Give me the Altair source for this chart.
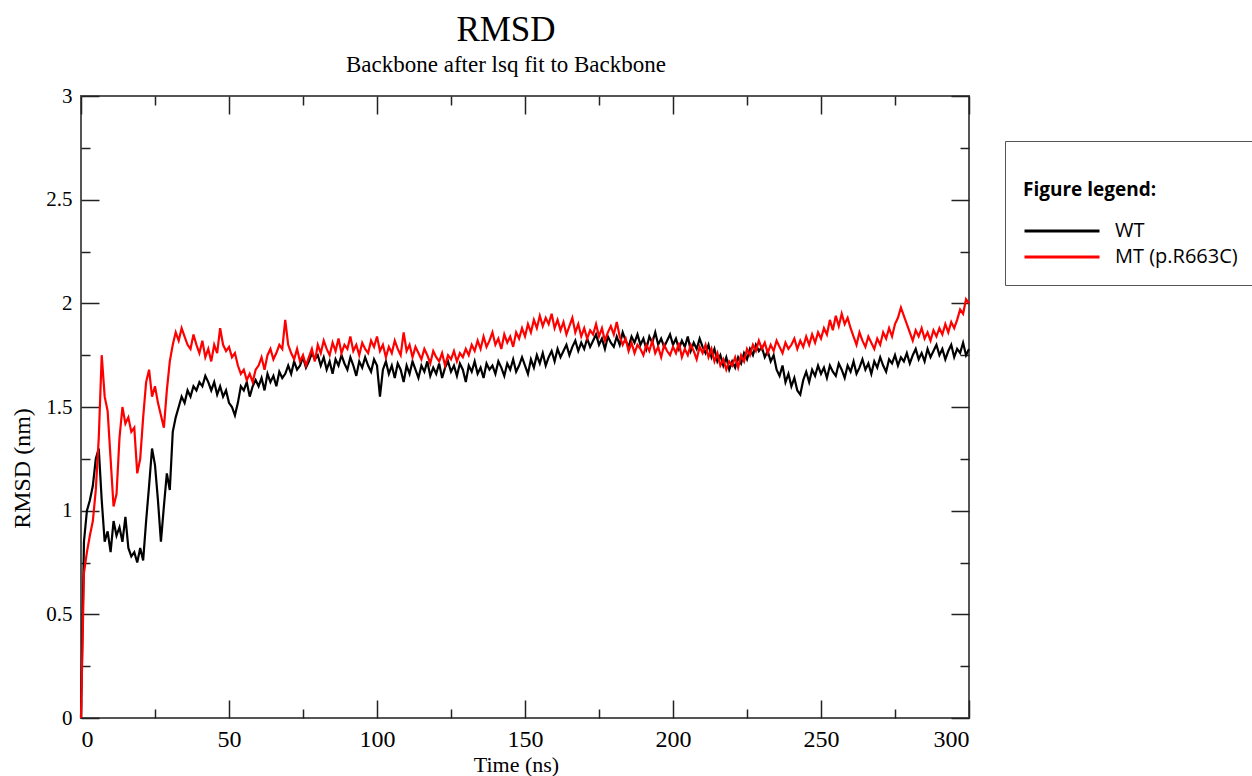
import altair as alt
import pandas as pd

# ---------------- data ----------------
time_ns = list(range(0, 301))

wt_rmsd = [
    0.00, 0.85, 1.00, 1.05, 1.12, 1.25, 1.30, 1.05, 0.85, 0.90,
    0.80, 0.95, 0.88, 0.92, 0.85, 0.97, 0.82, 0.78, 0.80, 0.75,
    0.82, 0.76, 0.95, 1.12, 1.30, 1.22, 1.05, 0.85, 1.02, 1.18,
    1.10, 1.38, 1.45, 1.50, 1.55, 1.52, 1.58, 1.55, 1.60, 1.58,
    1.62, 1.60, 1.65, 1.62, 1.58, 1.62, 1.56, 1.60, 1.55, 1.58,
    1.52, 1.50, 1.46, 1.52, 1.60, 1.58, 1.62, 1.55, 1.60, 1.63,
    1.60, 1.64, 1.58, 1.66, 1.62, 1.65, 1.60, 1.67, 1.64, 1.66,
    1.70, 1.66, 1.72, 1.68, 1.70, 1.74, 1.69, 1.72, 1.76, 1.73,
    1.75, 1.70, 1.74, 1.68, 1.72, 1.66, 1.73, 1.70, 1.75, 1.71,
    1.68, 1.74, 1.70, 1.65, 1.72, 1.69, 1.74, 1.70, 1.67, 1.73,
    1.70, 1.55, 1.68, 1.72, 1.66, 1.70, 1.64, 1.71, 1.68, 1.62,
    1.70, 1.66, 1.72, 1.68, 1.64, 1.70, 1.67, 1.72, 1.65, 1.69,
    1.66, 1.71, 1.64, 1.69, 1.72, 1.67, 1.70, 1.65, 1.71, 1.68,
    1.62, 1.70, 1.67, 1.72, 1.66, 1.69, 1.64, 1.71, 1.68, 1.70,
    1.66, 1.72, 1.69, 1.65, 1.71, 1.68, 1.73, 1.67, 1.70, 1.74,
    1.70, 1.66, 1.73, 1.69, 1.75, 1.71, 1.76, 1.70, 1.74, 1.77,
    1.72, 1.78, 1.74, 1.77, 1.80, 1.75, 1.79, 1.82, 1.77, 1.81,
    1.78, 1.83, 1.79, 1.82, 1.85, 1.80, 1.83, 1.78, 1.84, 1.81,
    1.79, 1.84, 1.80, 1.86, 1.82, 1.79, 1.84, 1.81, 1.85, 1.80,
    1.83, 1.78, 1.84, 1.81, 1.86, 1.80, 1.83, 1.79, 1.82, 1.85,
    1.80, 1.83, 1.78, 1.82, 1.79, 1.84, 1.77, 1.81, 1.78, 1.83,
    1.79, 1.76, 1.80, 1.74, 1.78, 1.72, 1.75, 1.70, 1.74, 1.68,
    1.72, 1.69, 1.74, 1.71, 1.76, 1.73, 1.78, 1.75, 1.80, 1.77,
    1.79, 1.74, 1.77, 1.72, 1.75, 1.68, 1.65, 1.70, 1.62, 1.66,
    1.60, 1.64, 1.58, 1.56, 1.63, 1.67, 1.62, 1.68, 1.65, 1.70,
    1.66, 1.69, 1.64, 1.70, 1.67, 1.65, 1.71, 1.68, 1.64, 1.70,
    1.67, 1.72, 1.66, 1.69, 1.73, 1.68, 1.71, 1.66, 1.72, 1.69,
    1.74, 1.70, 1.67, 1.73, 1.71, 1.75, 1.70, 1.74, 1.72, 1.76,
    1.71, 1.75, 1.78, 1.73, 1.76, 1.72, 1.78, 1.74, 1.77, 1.80,
    1.75, 1.78, 1.73, 1.77, 1.80, 1.74, 1.78, 1.76, 1.81, 1.75,
    1.78,
]

mt_rmsd = [
    0.00, 0.70, 0.80, 0.88, 0.95, 1.10, 1.35, 1.75, 1.55, 1.48,
    1.25, 1.02, 1.08, 1.35, 1.50, 1.42, 1.45, 1.38, 1.40, 1.18,
    1.25, 1.45, 1.62, 1.68, 1.55, 1.60, 1.52, 1.46, 1.40, 1.58,
    1.72, 1.80, 1.86, 1.82, 1.88, 1.84, 1.80, 1.78, 1.85, 1.80,
    1.76, 1.82, 1.74, 1.78, 1.72, 1.80, 1.76, 1.88, 1.80, 1.77,
    1.79, 1.74, 1.76, 1.70, 1.66, 1.68, 1.63, 1.66, 1.62, 1.68,
    1.70, 1.74, 1.68, 1.75, 1.78, 1.73, 1.76, 1.80, 1.78, 1.92,
    1.80, 1.76, 1.73, 1.78, 1.72, 1.75, 1.70, 1.74, 1.78, 1.72,
    1.80, 1.76, 1.82, 1.78, 1.75, 1.81, 1.77, 1.83, 1.76, 1.80,
    1.78, 1.84, 1.77, 1.80, 1.75, 1.81, 1.78, 1.76, 1.82, 1.79,
    1.84, 1.77, 1.80, 1.74, 1.79, 1.76, 1.82, 1.78, 1.75, 1.86,
    1.77, 1.80, 1.74, 1.79, 1.76, 1.73, 1.78, 1.75, 1.71, 1.77,
    1.74, 1.72, 1.76, 1.70, 1.75, 1.73, 1.77, 1.72, 1.76, 1.74,
    1.78, 1.75, 1.80, 1.77, 1.82, 1.78, 1.84, 1.79, 1.82, 1.86,
    1.80, 1.83, 1.78, 1.85, 1.81, 1.84, 1.79, 1.86, 1.83, 1.88,
    1.84, 1.90, 1.86, 1.92, 1.88, 1.94, 1.89, 1.93, 1.90, 1.95,
    1.88, 1.92, 1.87, 1.91, 1.85, 1.89, 1.93, 1.86, 1.90, 1.84,
    1.88, 1.83, 1.87, 1.85, 1.90, 1.84, 1.88, 1.82, 1.86, 1.89,
    1.85, 1.91, 1.84, 1.80, 1.83, 1.77, 1.81, 1.76, 1.80, 1.78,
    1.75, 1.80, 1.77, 1.82, 1.76, 1.79, 1.74, 1.80, 1.77, 1.75,
    1.79, 1.76, 1.81, 1.74, 1.78, 1.75, 1.80, 1.77, 1.73, 1.79,
    1.76, 1.80, 1.74, 1.78, 1.72, 1.76, 1.70, 1.73, 1.68, 1.72,
    1.70, 1.74, 1.69, 1.75, 1.72, 1.78, 1.75, 1.80, 1.77, 1.82,
    1.78, 1.81, 1.76, 1.80, 1.77, 1.82, 1.79, 1.76, 1.81, 1.78,
    1.80, 1.83, 1.78, 1.82, 1.79, 1.84, 1.80, 1.85, 1.81, 1.86,
    1.83, 1.88, 1.85, 1.92, 1.87, 1.94, 1.89, 1.95, 1.90, 1.93,
    1.88, 1.84, 1.80, 1.86, 1.82, 1.79, 1.84, 1.81, 1.78, 1.83,
    1.80, 1.86, 1.83, 1.88, 1.84, 1.90, 1.93, 1.98, 1.94, 1.90,
    1.86, 1.82, 1.87, 1.84, 1.88, 1.83, 1.86, 1.82, 1.87, 1.84,
    1.88, 1.85, 1.90, 1.86, 1.91, 1.88, 1.92, 1.97, 1.95, 2.02,
    2.00,
]

series_names = ["WT", "MT (p.R663C)"]
series_colors = ["#000000", "#ff0000"]

x_major = [0, 50, 100, 150, 200, 250, 300]
x_minor = [25, 75, 125, 175, 225, 275]
y_major = [0, 0.5, 1, 1.5, 2, 2.5, 3]
y_minor = [0.25, 0.75, 1.25, 1.75, 2.25, 2.75]

n = min(len(time_ns), len(wt_rmsd), len(mt_rmsd))
df = pd.DataFrame({
    "t": time_ns[:n] + time_ns[:n],
    "rmsd": wt_rmsd[:n] + mt_rmsd[:n],
    "series": [series_names[0]] * n + [series_names[1]] * n,
})

SERIF = "Liberation Serif"
MAJ, MIN = 18, 9

xscale = alt.Scale(domain=[0, 300], nice=False, zero=False)
yscale = alt.Scale(domain=[0, 3], nice=False, zero=False)

color = alt.Color(
    "series:N",
    scale=alt.Scale(domain=series_names, range=series_colors),
    legend=alt.Legend(
        title=["", "Figure legend:"],
        orient="none",
        legendX=924,
        legendY=45,
        direction="vertical",
        symbolType="M-1,0H5",
        symbolSize=625,
        symbolStrokeWidth=3,
        strokeColor="#555555",
        fillColor="white",
        padding=18,
        titleFont="Open Sans",
        titleFontWeight="bold",
        titleFontSize=19,
        titleLineHeight=22,
        titleColor="black",
        titlePadding=17,
        labelFont="Open Sans",
        labelFontSize=20,
        labelColor="black",
        labelOffset=64,
        rowPadding=2,
    ),
)


def xaxis(orient, values, size, labels, title=None):
    kw = dict(
        orient=orient, values=values, tickSize=size, offset=-size,
        domain=False, grid=False, labels=labels, tickColor="#222222",
        tickWidth=1.5,
    )
    if labels:
        kw.update(labelFont=SERIF, labelFontSize=24, labelColor="black",
                  labelPadding=9, format="d")
    if title:
        kw.update(title=title, titleFont=SERIF, titleFontSize=22,
                  titleFontWeight="normal", titleColor="black", titlePadding=3,
                  titleX=435)
    else:
        kw.update(title=None)
    return alt.Axis(**kw)


def yaxis(orient, values, size, labels, title=None):
    kw = dict(
        orient=orient, values=values, tickSize=size, offset=-size,
        domain=False, grid=False, labels=labels, tickColor="#222222",
        tickWidth=1.5,
    )
    if labels:
        kw.update(labelFont=SERIF, labelFontSize=21, labelColor="black",
                  labelPadding=9, format="~g")
    if title:
        kw.update(title=title, titleFont=SERIF, titleFontSize=24,
                  titleFontWeight="normal", titleColor="black", titlePadding=11,
                  titleY=372)
    else:
        kw.update(title=None)
    return alt.Axis(**kw)


base = alt.Chart(df)

wt_layer = base.transform_filter(alt.datum.series == series_names[0]).mark_line(
    strokeWidth=2.2
).encode(
    x=alt.X("t:Q", scale=xscale, axis=xaxis("bottom", x_major, MAJ, True, "Time (ns)")),
    y=alt.Y("rmsd:Q", scale=yscale, axis=yaxis("left", y_major, MAJ, True, "RMSD (nm)")),
    color=color,
)

mt_layer = base.transform_filter(alt.datum.series == series_names[1]).mark_line(
    strokeWidth=2.2
).encode(
    x=alt.X("t:Q", scale=xscale, axis=xaxis("bottom", x_minor, MIN, False)),
    y=alt.Y("rmsd:Q", scale=yscale, axis=yaxis("left", y_minor, MIN, False)),
    color=color,
)

top_major = base.mark_line(opacity=0).encode(
    x=alt.X("t:Q", scale=xscale, axis=xaxis("top", x_major, MAJ, False)),
    y=alt.Y("rmsd:Q", scale=yscale, axis=yaxis("right", y_major, MAJ, False)),
)

top_minor = base.mark_line(opacity=0).encode(
    x=alt.X("t:Q", scale=xscale, axis=xaxis("top", x_minor, MIN, False)),
    y=alt.Y("rmsd:Q", scale=yscale, axis=yaxis("right", y_minor, MIN, False)),
)

chart = alt.layer(wt_layer, mt_layer, top_major, top_minor).resolve_axis(
    x="independent", y="independent"
).properties(
    width=888,
    height=622,
    title=alt.Title(
        "RMSD",
        subtitle="Backbone after lsq fit to Backbone",
        font=SERIF,
        fontSize=35,
        fontWeight="normal",
        color="black",
        subtitleFont=SERIF,
        subtitleFontSize=23,
        subtitleColor="black",
        subtitlePadding=6,
        anchor="middle",
        dx=-19,
        offset=8,
    ),
    autosize=alt.AutoSizeParams(type="none"),
    padding={"left": 81, "top": 96, "right": 283, "bottom": 58},
    background="white",
).configure_view(
    stroke="#555555",
    strokeWidth=2,
)

chart.save("out.html", embed_options={"renderer": "svg", "actions": False})
